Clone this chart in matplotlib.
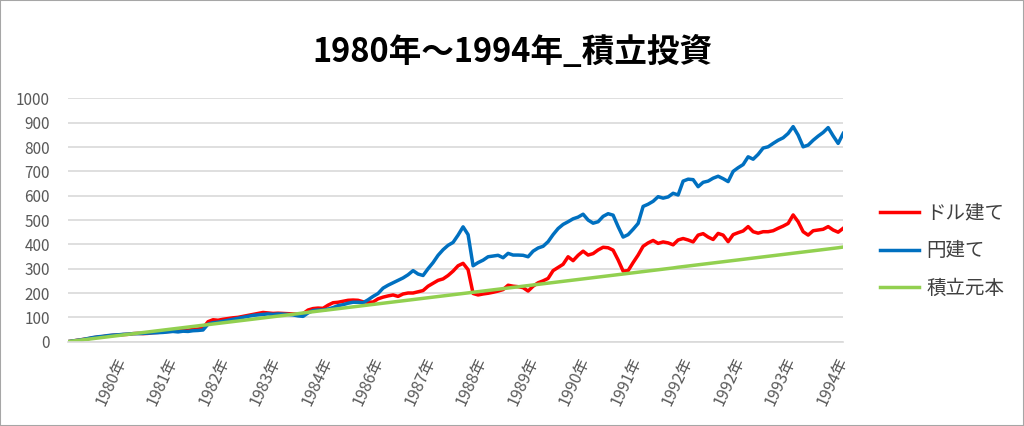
import matplotlib

matplotlib.use("Agg")
import matplotlib.pyplot as plt
from matplotlib.patches import Rectangle
import numpy as np

plt.rcParams["font.family"] = ["Noto Sans CJK JP", "DejaVu Sans"]

title = "1980年～1994年_積立投資"
tick_labels = ["1980年", "1981年", "1982年", "1983年", "1984年", "1986年", "1987年",
               "1988年", "1989年", "1990年", "1991年", "1992年", "1992年", "1993年", "1994年"]

# dollar-denominated value (ドル建て)
dollar = [0, 3, 6, 9, 12, 16, 19, 21, 24, 26, 27, 29, 30, 33, 34, 33, 34, 37, 38, 40,
          42, 43, 44, 46, 47, 50, 52, 55, 82, 90, 88, 92, 95, 98, 100, 104, 108, 112, 116, 120,
          118, 116, 117, 116, 115, 114, 113, 115, 130, 136, 138, 137, 150, 160, 162, 166, 170, 171, 170, 164,
          162, 163, 176, 183, 188, 192, 186, 196, 200, 200, 205, 210, 228, 240, 252, 258, 272, 290, 312, 322,
          296, 198, 192, 196, 199, 203, 208, 214, 232, 228, 226, 222, 208, 228, 242, 250, 260, 292, 305, 318,
          349, 333, 355, 372, 356, 362, 377, 388, 386, 376, 336, 290, 292, 325, 356, 392, 406, 416, 404, 410,
          406, 398, 418, 424, 418, 410, 438, 444, 430, 420, 445, 438, 411, 440, 448, 455, 473, 452, 446, 452,
          452, 456, 466, 475, 486, 521, 493, 452, 438, 456, 459, 462, 473, 459, 450, 466]

# yen-denominated value (円建て)
yen = [0, 3, 6, 9, 13, 17, 20, 22, 25, 27, 28, 30, 31, 33, 33, 34, 35, 36, 37, 38,
       40, 42, 40, 43, 42, 45, 46, 48, 72, 78, 80, 84, 88, 92, 96, 100, 104, 108, 110, 112,
       114, 112, 114, 113, 112, 110, 106, 104, 118, 128, 130, 130, 134, 140, 148, 152, 158, 162, 162, 160,
       172, 186, 198, 220, 232, 242, 252, 262, 275, 292, 278, 272, 300, 325, 355, 378, 396, 408, 438, 472,
       440, 312, 325, 335, 349, 352, 355, 345, 363, 356, 356, 355, 349, 372, 385, 392, 411, 440, 465, 482,
       493, 505, 512, 524, 500, 487, 493, 515, 526, 520, 473, 430, 440, 462, 486, 556, 565, 577, 596, 590,
       595, 610, 603, 660, 668, 666, 637, 655, 660, 672, 680, 670, 658, 700, 715, 728, 760, 750, 770, 796,
       801, 815, 828, 838, 856, 884, 849, 801, 808, 828, 845, 860, 880, 846, 815, 856]

# accumulated principal (積立元本)
principal = [0, 2.5, 5, 7.5, 10, 12.5, 15, 17.6, 20, 22.6, 25, 27.6, 30, 32.6, 35, 37.6, 40, 42.7, 45, 47.7,
             50, 52.7, 55, 57.7, 60, 62.7, 65, 67.8, 70, 72.8, 75, 77.8, 80, 82.8, 85, 87.8, 90, 92.9, 95, 97.9,
             100, 102.9, 105, 107.9, 110, 112.9, 115, 118, 120.5, 123, 125.5, 128, 130.5, 133, 135.5, 138, 140.6, 143, 145.6, 148,
             150.6, 153, 155.6, 158, 160.6, 163, 165.6, 168, 170.7, 173, 175.7, 178, 180.7, 183, 185.7, 188, 190.7, 193, 195.7, 198,
             200.7, 203, 205.7, 208, 210.7, 213, 215.7, 218, 220.7, 223, 225.7, 228, 230.7, 233, 235.7, 238, 240.7, 243, 245.7, 248,
             250.8, 253, 255.8, 258, 260.8, 263, 265.8, 268, 270.8, 273, 275.8, 278, 280.8, 283, 285.8, 288, 290.8, 293, 295.9, 298,
             300.9, 303, 306, 308.5, 311, 313.5, 316, 318.6, 321, 323.6, 326, 328.6, 331, 333.6, 336, 338.7, 341, 343.7, 346, 348.7,
             351, 353.7, 356, 358.7, 361, 363.7, 366, 368.7, 371, 373.7, 376, 378.7, 381, 383.7, 386, 389]

x = np.arange(len(yen))

fig = plt.figure(figsize=(10.24, 4.26), dpi=100)
ax = fig.add_axes([0.0664, 0.198, 0.757, 0.571])

ax.plot(x, dollar, color="#FF0000", lw=2.5, label="ドル建て")
ax.plot(x, yen, color="#0070C0", lw=2.5, label="円建て")
ax.plot(x, principal, color="#92D050", lw=2.5, label="積立元本")

ax.set_xlim(0, len(x) - 1)
ax.set_ylim(0, 1000)
ax.set_yticks(np.arange(0, 1001, 100))
ax.grid(axis="y", color="#d9d9d9", lw=1.2)
ax.set_axisbelow(True)
for s in ["top", "right", "left"]:
    ax.spines[s].set_visible(False)
ax.spines["bottom"].set_color("#d9d9d9")
ax.spines["bottom"].set_linewidth(1.2)

ticks = np.linspace(10.8, len(x) - 1, len(tick_labels))
ax.set_xticks(ticks)
ax.set_xticklabels(tick_labels, rotation=65, ha="right", va="center",
                   rotation_mode="anchor", fontsize=11.5, color="#595959")
ax.tick_params(axis="x", length=0, pad=12)
ax.tick_params(axis="y", length=0, pad=13, labelsize=11, labelcolor="#595959")

fig.suptitle(title, x=0.5, y=0.915, fontsize=23.5, fontweight="bold", color="#000000")

ax.legend(loc="center left", bbox_to_anchor=(0.842, 0.411), bbox_transform=fig.transFigure,
          frameon=False, fontsize=14, handlelength=2.0, handletextpad=0.4, labelspacing=0.85,
          labelcolor="#404040")

fig.patches.append(Rectangle((0, 0), 1, 1, transform=fig.transFigure, fill=False,
                             edgecolor="#a6a6a6", lw=1.5))

fig.savefig("out.png", dpi=100)
plt.close(fig)
